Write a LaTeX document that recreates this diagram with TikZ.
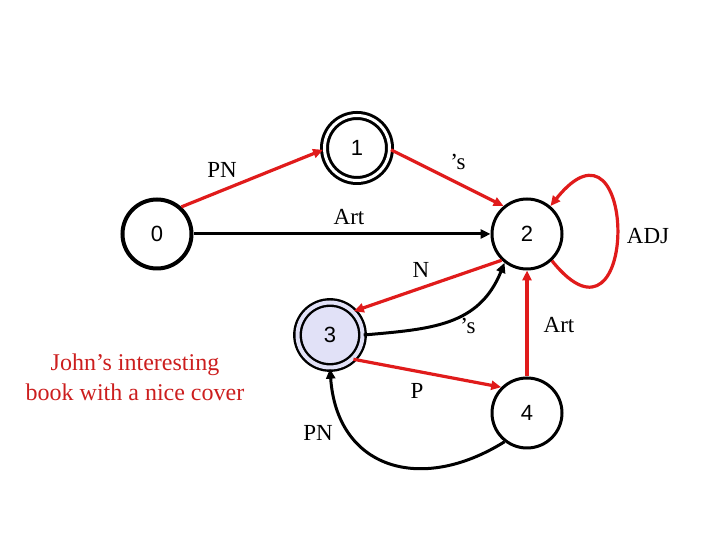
\documentclass[tikz,border=0pt]{standalone}
\usepackage{fontspec}
\setmainfont{Liberation Serif}
\newfontfamily\statefont{Liberation Sans}
\usetikzlibrary{arrows.meta}
\definecolor{arcred}{HTML}{E01B1B}
\definecolor{notered}{HTML}{CC1E1E}
\definecolor{finalfill}{HTML}{E1E1F7}

\begin{document}
\begin{tikzpicture}[x=1pt,y=1pt,
  state/.style={circle,draw,line width=3pt,minimum size=70pt,inner sep=0pt,
    font=\statefont\fontsize{22}{24}\selectfont},
  accept/.style={state,double=white,double distance=3pt,minimum size=65pt},
  redarc/.style={arcred,line width=3.2pt,-{Triangle[length=10pt,width=9pt]}},
  blackarc/.style={black,line width=3pt,-{Triangle[length=10pt,width=9pt]}},
  lbl/.style={font=\fontsize{23}{27}\selectfont}]
  \useasboundingbox (0,0) rectangle (720,540);

  % States
  \node[state,line width=4pt,minimum size=69pt] (n0) at (157,306) {0};
  \node[accept] (n1) at (357,392) {1};
  \node[state] (n2) at (527,306) {2};
  \node[accept,double=finalfill,fill=finalfill,line width=2.4pt,double distance=4pt] (n3) at (330,205) {3};
  \node[state] (n4) at (527,127) {4};

  % Arcs
  \draw[redarc] (n0.48) -- (n1.183);
  \draw[redarc] (n1.-3) -- (n2.130);
  \draw[blackarc] (n0) -- (n2);
  \draw[redarc] (n2.226) -- (n3.45);
  \draw[blackarc] (n3.0) to[out=5,in=-112,looseness=1.1] (n2.232);
  \draw[redarc] (n3.-46) -- (n4.135);
  \draw[redarc] (n4) -- (n2);
  \draw[blackarc] (n4.232) to[out=212,in=-86,looseness=1.35] (n3.270);
  % Self loop on 2
  \draw[redarc] (n2.-47) .. controls +(88,-110) and +(88,110) .. (n2.50);

  % Arc labels
  \node[lbl] (lPN) at (222,370) {PN};
  \node[lbl] (lS) at (458,378) {'s};
  \node[lbl] (lArt) at (349,323) {Art};
  \node[lbl] (lN) at (421,270) {N};
  \node[lbl] (lS2) at (468,214) {'s};
  \node[lbl] (lArt2) at (559,215) {Art};
  \node[lbl] (lP) at (417,149) {P};
  \node[lbl] (lPN2) at (318,107) {PN};
  \node[lbl] (lADJ) at (648,304) {ADJ};

  % Example phrase
  \node[lbl,notered,align=center,font=\fontsize{24}{30}\selectfont] (phrase) at (135,163)
    {John's interesting\\book with a nice cover};
\end{tikzpicture}
\end{document}
